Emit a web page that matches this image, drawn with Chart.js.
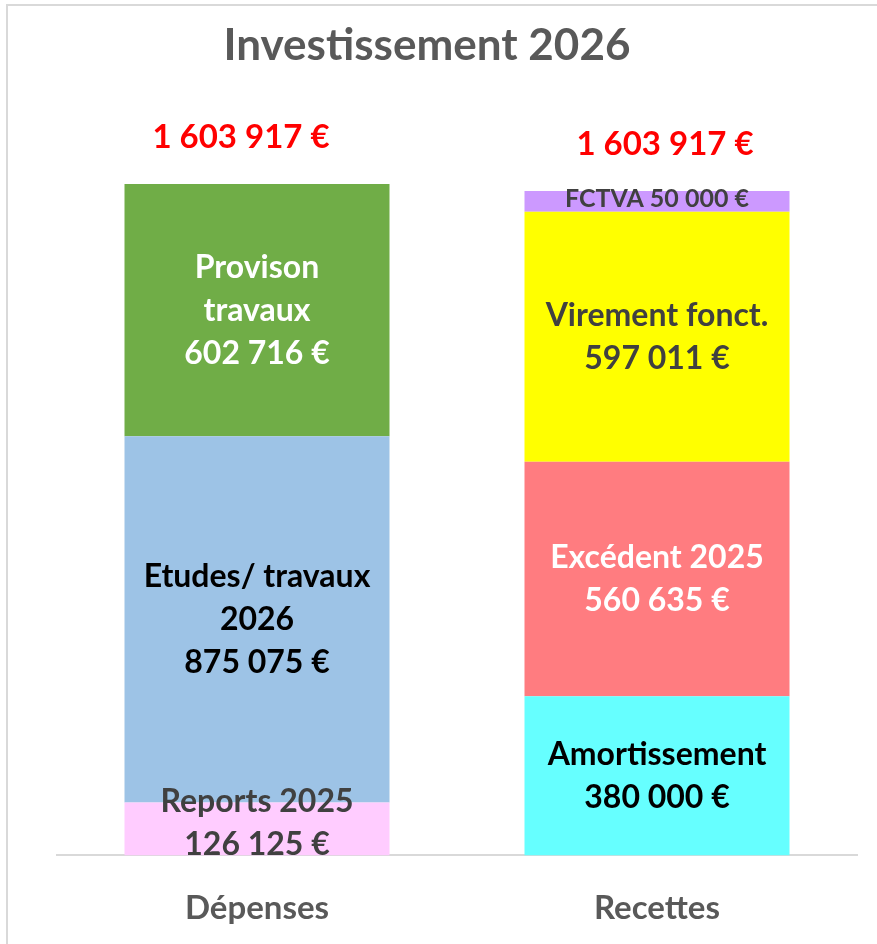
<!DOCTYPE html>
<html lang="fr">
<head>
  <meta charset="UTF-8">
  <title>Investissement 2026</title>
  <script src="https://cdn.jsdelivr.net/npm/chart.js"></script>
  <style>
    body { margin: 0; background: #fff; overflow: hidden; }
    #wrap { position: relative; width: 877px; height: 944px; overflow: hidden; }
    #frame { position: absolute; left: 6px; top: 4px; right: 0; bottom: 0;
             border-left: 2px solid #d9d9d9; border-top: 2px solid #d9d9d9; }
    #chart { position: absolute; left: 0; top: 0; }
  </style>
</head>
<body>
  <div id="wrap">
    <div id="frame"></div>
    <canvas id="chart" width="877" height="961"></canvas>
  </div>

  <script>
    // Data
    const chartTitle = 'Investissement 2026';
    const categories = ['Dépenses', 'Recettes'];
    const totals = [1603917, 1603917];

    const reports2025 = [126125, null];
    const etudesTravaux = [875075, null];
    const provisionTravaux = [602716, null];
    const amortissement = [null, 380000];
    const excedent2025 = [null, 560635];
    const virementFonct = [null, 597011];
    const fctva = [null, 50000];

    const seriesNames = [
      ['Reports 2025'],
      ['Etudes/ travaux', '2026'],
      ['Provison', 'travaux'],
      ['Amortissement'],
      ['Excédent 2025'],
      ['Virement fonct.'],
      ['FCTVA']
    ];
    const seriesValues = [reports2025, etudesTravaux, provisionTravaux,
                          amortissement, excedent2025, virementFonct, fctva];

    // Styles (one per series)
    const fills = ['#ffccff', '#9dc3e6', '#70ad47', '#66ffff', '#ff7c80', '#ffff00', '#cc99ff'];
    const textColors = ['#404040', '#000000', '#ffffff', '#000000', '#ffffff', '#404040', '#404040'];
    const FONT = 'Lato, "Open Sans", sans-serif';

    function euro(v) {
      return String(Math.round(v)).replace(/\B(?=(\d{3})+(?!\d))/g, ' ') + ' €';
    }

    // segment labels drawn inside each bar piece
    const segmentLabels = {
      id: 'segmentLabels',
      afterDatasetsDraw(chart) {
        const ctx = chart.ctx;
        ctx.save();
        ctx.textAlign = 'center';
        ctx.textBaseline = 'middle';
        chart.data.datasets.forEach((ds, di) => {
          const meta = chart.getDatasetMeta(di);
          meta.data.forEach((bar, i) => {
            const v = ds.data[i];
            if (v == null) return;
            const small = v < 100000;
            let lines = seriesNames[di].slice();
            if (small) lines[lines.length - 1] += ' ' + euro(v);
            else lines.push(euro(v));
            const size = small ? 25 : 32;
            const lh = 43;
            ctx.font = 'bold ' + size + 'px ' + FONT;
            ctx.fillStyle = textColors[di];
            let cy = (bar.y + bar.base) / 2;
            if (di === 0) cy -= 6;
            if (small) cy -= 2;
            const y0 = cy - (lines.length - 1) * lh / 2;
            lines.forEach((t, k) => ctx.fillText(t, bar.x, y0 + k * lh));
          });
        });
        ctx.restore();
      }
    };

    // title + red totals above the bars
    const totalLabels = {
      id: 'totalLabels',
      afterDatasetsDraw(chart) {
        const ctx = chart.ctx;
        const y = chart.scales.y;
        const x = chart.scales.x;
        ctx.save();
        ctx.textAlign = 'center';
        ctx.textBaseline = 'middle';
        ctx.font = 'bold 44px ' + FONT;
        ctx.fillStyle = '#595959';
        ctx.fillText(chartTitle, 427, 46);
        ctx.font = 'bold 33px ' + FONT;
        ctx.fillStyle = '#ff0000';
        categories.forEach((c, i) => {
          let top = 0;
          seriesValues.forEach(s => { top += s[i] || 0; });
          ctx.fillText(euro(totals[i]), x.getPixelForValue(i) - 16 + i * 24, y.getPixelForValue(top) - 47);
        });
        ctx.restore();
      }
    };

    new Chart(document.getElementById('chart'), {
      type: 'bar',
      data: {
        labels: categories,
        datasets: seriesValues.map((vals, i) => ({
          label: seriesNames[i].join(' '),
          data: vals,
          backgroundColor: fills[i],
          borderWidth: 0,
          barPercentage: 0.6625,
          categoryPercentage: 1
        }))
      },
      options: {
        responsive: false,
        animation: false,
        layout: { padding: { left: 57, right: 20, top: 102, bottom: 0 } },
        plugins: {
          legend: { display: false },
          tooltip: { enabled: false },
          title: { display: false }
        },
        scales: {
          x: {
            stacked: true,
            grid: { display: false, drawTicks: false },
            border: { display: true, color: '#d9d9d9', width: 2 },
            ticks: {
              color: '#595959',
              padding: 33,
              font: { family: FONT, size: 33, weight: 'bold' }
            }
          },
          y: {
            stacked: true,
            display: false,
            min: 0,
            max: 1800000
          }
        }
      },
      plugins: [segmentLabels, totalLabels]
    });
  </script>
</body>
</html>
